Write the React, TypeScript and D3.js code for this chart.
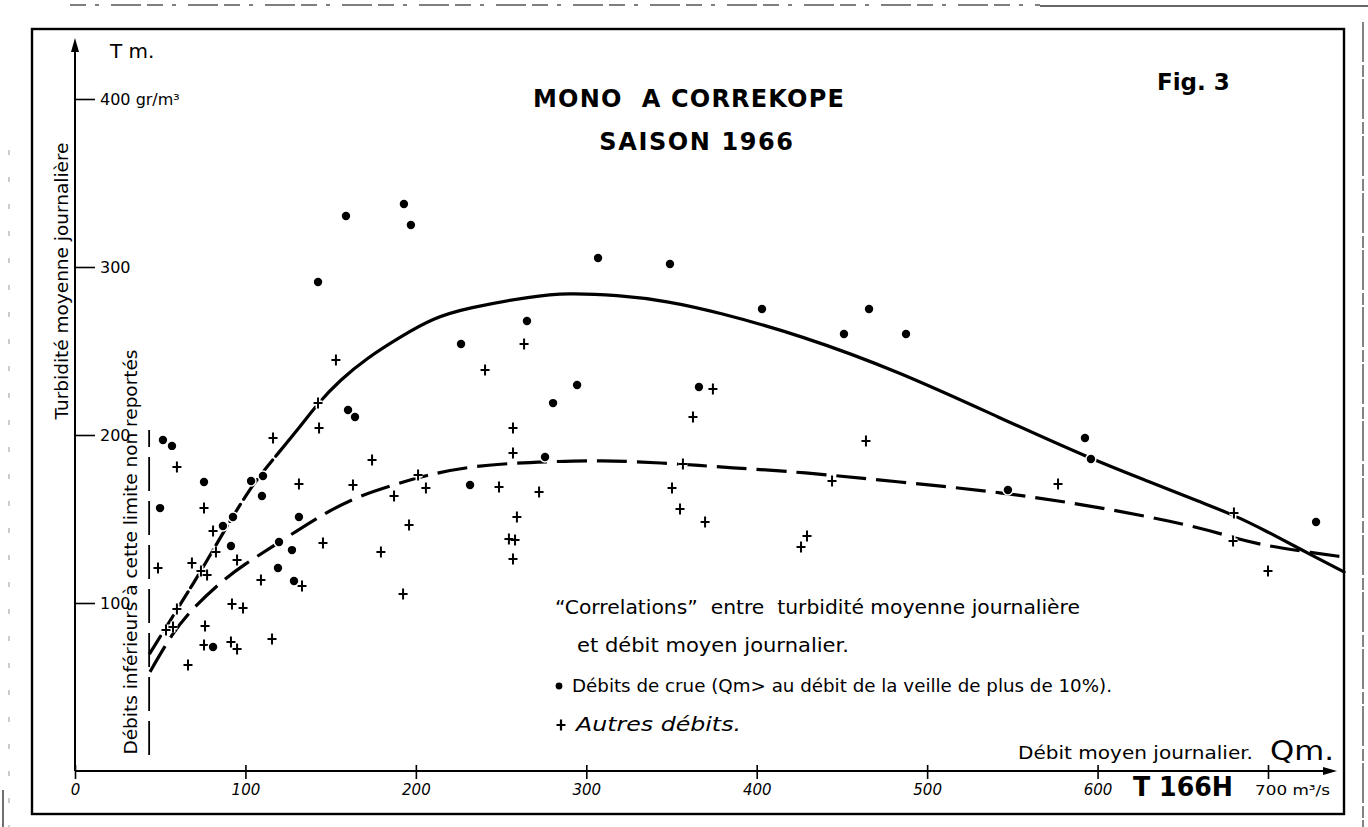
import React, { useEffect, useRef } from "react"
import * as d3 from "d3"

const dimensions = { width: 1368, height: 827 }

// Débits de crue (points)
const crueQ = [51.6, 56.9, 49.9, 75.7, 103.3, 110.3, 109.7, 92.7, 86.8, 91.5, 131.4, 119.7, 127.3, 119.1, 128.5, 81.0, 160.2, 164.3, 142.6, 159.0, 193.0, 197.1, 226.5, 265.2, 306.9, 349.1, 403.1, 294.6, 280.5, 366.1, 275.8, 231.8, 451.2, 465.9, 487.6, 547.4, 592.6, 596.1, 728.2]
const crueT = [197.0, 193.5, 156.5, 172.0, 172.6, 175.6, 163.7, 151.2, 145.8, 133.9, 151.2, 136.3, 131.5, 120.8, 113.1, 73.8, 214.9, 210.7, 291.1, 330.4, 337.5, 325.0, 254.2, 267.9, 305.4, 301.8, 275.0, 229.8, 219.0, 228.6, 186.9, 170.2, 260.1, 275.0, 260.1, 167.3, 198.2, 185.7, 148.2]

// Autres débits (croix)
const autresQ = [59.8, 48.7, 75.7, 81.0, 82.7, 68.6, 73.9, 77.5, 95.1, 116.2, 142.6, 143.2, 131.4, 153.1, 163.1, 174.3, 187.2, 205.9, 201.3, 196.0, 145.5, 179.5, 192.5, 109.1, 133.2, 92.1, 98.6, 76.3, 75.7, 91.5, 95.1, 115.6, 59.8, 53.4, 57.5, 66.3, 240.6, 263.5, 257.0, 257.0, 248.8, 272.3, 259.3, 254.6, 258.2, 257.0, 374.3, 362.6, 356.7, 350.3, 355.0, 369.7, 426.0, 429.5, 444.2, 464.1, 576.8, 680.0, 679.5, 700.0]
const autresT = [181.0, 120.8, 156.5, 142.9, 130.4, 123.8, 119.0, 116.7, 125.6, 198.2, 219.0, 204.2, 170.8, 244.6, 170.2, 185.1, 163.7, 168.5, 176.2, 146.4, 135.7, 130.4, 105.4, 113.7, 110.1, 99.4, 97.0, 86.3, 75.0, 76.8, 72.6, 78.6, 96.4, 83.9, 85.7, 63.1, 238.7, 254.2, 204.2, 189.3, 169.0, 166.1, 151.2, 138.1, 137.5, 126.2, 227.4, 210.7, 182.7, 168.5, 156.0, 148.2, 133.3, 139.9, 172.6, 196.4, 170.8, 153.6, 136.9, 119.0]

// Courbe en trait plein (tracée à main levée)
const courbePleineQ = [44.0, 60.4, 73.3, 86.8, 102.7, 114.4, 132.0, 142.6, 155.5, 171.3, 190.7, 210.1, 230.0, 268.7, 288.7, 318.0, 347.4, 376.7, 425.4, 484.1, 542.8, 596.2, 630.8, 660.1, 680.0, 700.0, 718.8, 744.6]
const courbePleineT = [70.2, 97.0, 117.9, 141.7, 168.5, 183.3, 204.8, 219.0, 232.7, 245.8, 258.3, 269.6, 275.6, 282.7, 284.5, 283.3, 279.8, 273.2, 259.5, 237.5, 210.1, 185.7, 172.0, 160.1, 152.4, 142.3, 132.1, 118.5]

// Courbe en tirets
const courbeTiretsQ = [44.0, 57.0, 69.2, 85.0, 98.6, 120.3, 139.7, 163.0, 186.6, 206.5, 230.0, 257.0, 275.8, 308.0, 347.4, 386.0, 425.4, 484.0, 542.8, 601.4, 660.1, 679.5, 700.0, 718.8, 744.6]
const courbeTiretsT = [59.0, 82.0, 97.0, 112.0, 122.6, 136.3, 149.4, 162.5, 170.2, 176.2, 181.0, 183.3, 184.0, 185.1, 183.3, 180.4, 178.0, 172.0, 166.1, 157.1, 145.2, 138.7, 133.9, 131.0, 127.4]

// limite des débits reportés
const limiteQ = 43.5
const limiteT = [9.5, 203]

const xTicks = [0, 100, 200, 300, 400, 500, 600, 700]
const yTicks = [100, 200, 300, 400]

const font = "'DejaVu Sans', sans-serif"

export default function App() {
  const ref = useRef<SVGSVGElement>(null)

  useEffect(() => {
    const svg = d3.select(ref.current)
    svg.selectAll("*").remove()

    const xScale = d3.scaleLinear().domain([0, 700]).range([75, 1268])
    const yScale = d3.scaleLinear().domain([0, 400]).range([771, 99])

    svg.append("rect").attr("width", dimensions.width).attr("height", dimensions.height).attr("fill", "white")

    // traces du bord de page
    svg.append("line").attr("x1", 70).attr("x2", 1040).attr("y1", 5).attr("y2", 5)
      .attr("stroke", "#555").attr("stroke-width", 1.3).attr("stroke-dasharray", "16 9 4 12 30 6")
    svg.append("line").attr("x1", 1040).attr("x2", 1368).attr("y1", 6).attr("y2", 6)
      .attr("stroke", "#333").attr("stroke-width", 1.4)
    svg.append("line").attr("x1", 1363).attr("x2", 1363).attr("y1", 22).attr("y2", 827)
      .attr("stroke", "#333").attr("stroke-width", 1.2).attr("stroke-dasharray", "40 3 12 2")
    svg.append("line").attr("x1", 9).attr("x2", 9).attr("y1", 150).attr("y2", 827)
      .attr("stroke", "#999").attr("stroke-width", 1).attr("stroke-dasharray", "5 22")
    svg.append("line").attr("x1", 3).attr("x2", 3).attr("y1", 790).attr("y2", 827)
      .attr("stroke", "#222").attr("stroke-width", 1.3)

    // cadre
    svg.append("rect").attr("x", 32).attr("y", 29).attr("width", 1312).attr("height", 785)
      .attr("fill", "none").attr("stroke", "black").attr("stroke-width", 2.4)

    // axes
    const x0 = xScale(0)
    const y0 = yScale(0)
    svg.append("line").attr("x1", x0).attr("x2", x0).attr("y1", y0).attr("y2", 44)
      .attr("stroke", "black").attr("stroke-width", 2)
    svg.append("path").attr("d", `M${x0},38 L${x0 - 4},52 L${x0 + 4},52 Z`).attr("fill", "black")
    svg.append("line").attr("x1", x0).attr("x2", 1328).attr("y1", y0).attr("y2", y0)
      .attr("stroke", "black").attr("stroke-width", 2)
    svg.append("path").attr("d", `M1337,${y0} L1323,${y0 - 4} L1323,${y0 + 4} Z`).attr("fill", "black")

    const xAxis = d3.axisBottom(xScale).tickValues(xTicks).tickSize(8).tickPadding(5)
      .tickFormat(d => (d === 700 ? "" : String(d)))
    const gx = svg.append("g").attr("transform", `translate(0 ${y0})`).call(xAxis)
    gx.select(".domain").remove()
    gx.selectAll(".tick line").attr("y1", -6).attr("stroke-width", 1.6)
    gx.selectAll(".tick text").attr("font-family", font).attr("font-size", 15).attr("font-style", "italic")

    const yAxis = d3.axisRight(yScale).tickValues(yTicks).tickSize(20).tickPadding(5)
      .tickFormat(d => (d === 400 ? "400  gr/m³" : String(d)))
    const gy = svg.append("g").attr("transform", `translate(${x0} 0)`).call(yAxis)
    gy.select(".domain").remove()
    gy.selectAll(".tick line").attr("stroke-width", 1.6)
    gy.selectAll(".tick text").attr("font-family", font).attr("font-size", 16)

    svg.append("text").attr("x", 1255).attr("y", 795).attr("font-family", font).attr("font-size", 14)
      .attr("textLength", 75).attr("lengthAdjust", "spacingAndGlyphs").text("700 m³/s")

    // limite verticale
    svg.append("line").attr("x1", xScale(limiteQ)).attr("x2", xScale(limiteQ))
      .attr("y1", yScale(limiteT[0])).attr("y2", yScale(limiteT[1]))
      .attr("stroke", "black").attr("stroke-width", 1.8).attr("stroke-dasharray", "34 10")

    // courbes
    const line = d3.line<[number, number]>()
      .x(d => xScale(d[0])).y(d => yScale(d[1]))
      .curve(d3.curveBasis)

    const pleine = courbePleineQ.map((q, i) => [q, courbePleineT[i]] as [number, number])
    const tirets = courbeTiretsQ.map((q, i) => [q, courbeTiretsT[i]] as [number, number])

    svg.append("path").attr("d", line(pleine)).attr("fill", "none").attr("stroke", "black")
      .attr("stroke-width", 3.2).attr("stroke-linecap", "round")
      .attr("stroke-dasharray", "20 6 18 6 22 5 18 6 20 6 22 5 20 6 24 5 20 5 3000")
    svg.append("path").attr("d", line(tirets)).attr("fill", "none").attr("stroke", "black")
      .attr("stroke-width", 3.2).attr("stroke-dasharray", "30 10")

    // points
    const crue = crueQ.map((q, i) => ({ q, t: crueT[i] }))
    const autres = autresQ.map((q, i) => ({ q, t: autresT[i] }))

    const plus = (cx: number, cy: number) =>
      `M${cx - 4.5},${cy} L${cx + 4.5},${cy} M${cx},${cy - 5.5} L${cx},${cy + 5.5}`

    svg.append("g").selectAll("path").data(autres).enter().append("path")
      .attr("d", d => plus(xScale(d.q), yScale(d.t)))
      .attr("stroke", "white").attr("stroke-width", 5).attr("fill", "none")
    svg.append("g").selectAll("path").data(autres).enter().append("path")
      .attr("d", d => plus(xScale(d.q), yScale(d.t)))
      .attr("stroke", "black").attr("stroke-width", 2).attr("fill", "none")

    svg.append("g").selectAll("circle").data(crue).enter().append("circle")
      .attr("cx", d => xScale(d.q)).attr("cy", d => yScale(d.t)).attr("r", 4.2)
      .attr("fill", "black").attr("stroke", "white").attr("stroke-width", 3)
      .attr("paint-order", "stroke")

    // textes
    const text = (x: number, y: number, s: string, size: number, extra: Record<string, string | number> = {}) => {
      const t = svg.append("text").attr("x", x).attr("y", y).attr("font-family", font)
        .attr("font-size", size).attr("fill", "black").text(s)
      Object.entries(extra).forEach(([k, v]) => t.attr(k, v))
      return t
    }
    const fit = (w: number) => ({ textLength: w, lengthAdjust: "spacingAndGlyphs" })

    text(110, 58, "T m.", 20)
    text(689, 107, "MONO\u00a0\u00a0A CORREKOPE", 24, { "font-weight": "bold", "text-anchor": "middle", "letter-spacing": 1.2 })
    text(697, 150, "SAISON 1966", 24, { "font-weight": "bold", "text-anchor": "middle", "letter-spacing": 1.6 })
    text(1157, 90, "Fig. 3", 23, { "font-weight": "bold" })

    text(0, 0, "Turbidité moyenne journalière", 17, { "text-anchor": "middle", transform: "translate(68 281) rotate(-90)", ...fit(277) })
    text(0, 0, "Débits inférieurs à cette limite non reportés", 18, { "text-anchor": "middle", transform: "translate(137 552) rotate(-90)", ...fit(405) })

    text(555, 614, "“Correlations”  entre  turbidité moyenne journalière", 19, { "xml:space": "preserve", ...fit(525) })
    text(577, 652, "et débit moyen journalier.", 19, fit(272))
    svg.append("circle").attr("cx", 559).attr("cy", 686).attr("r", 3.4).attr("fill", "black")
    text(572, 692, "Débits de crue (Qm> au débit de la veille de plus de 10%).", 18, fit(540))
    svg.append("path").attr("d", plus(561, 725)).attr("stroke", "black").attr("stroke-width", 2.2)
    text(576, 731, "Autres débits.", 19, { "font-style": "italic", ...fit(165) })

    text(1018, 759, "Débit moyen journalier.", 18, fit(235))
    text(1270, 760, "Qm.", 27, fit(64))
    text(1133, 796, "T 166H", 26, { "font-weight": "bold", ...fit(100) })
  }, [])

  return (
    <div style={{ position: "absolute", left: 0, top: 0 }}>
      <style>{`body{margin:0;overflow:hidden}`}</style>
      <svg ref={ref} width={dimensions.width} height={dimensions.height} />
    </div>
  )
}
